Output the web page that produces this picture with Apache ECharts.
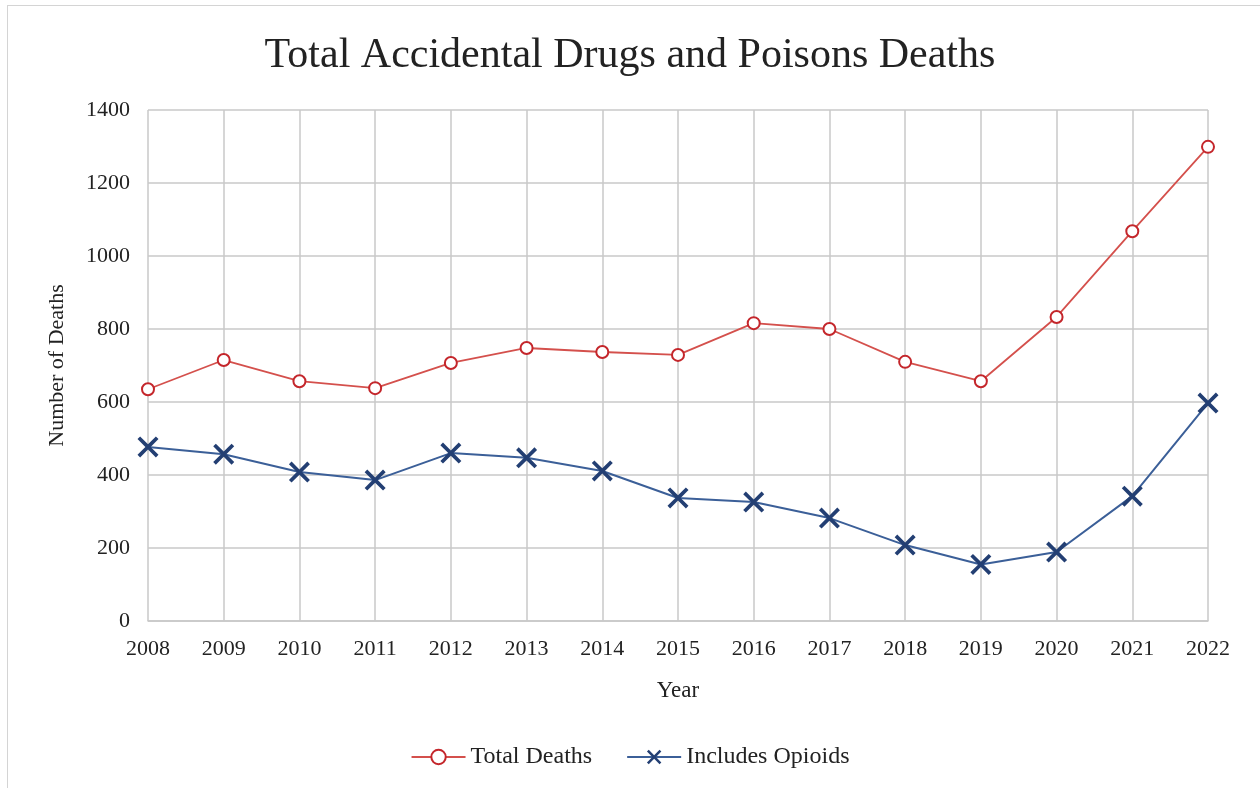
<!DOCTYPE html>
<html>
<head>
<meta charset="utf-8">
<script src="https://cdn.jsdelivr.net/npm/echarts@6/dist/echarts.min.js"></script>
<style>
  html, body { margin: 0; padding: 0; background: #fff; }
  #frame { position: absolute; left: 7px; top: 5px; width: 1260px; height: 790px; border-left: 1px solid #d4d4d4; border-top: 1px solid #d4d4d4; }
  #chart { width: 1260px; height: 788px; }
</style>
</head>
<body>
<div id="frame"></div>
<div id="chart" style="position:absolute;left:0;top:0;"></div>
<script>
var years = ['2008','2009','2010','2011','2012','2013','2014','2015','2016','2017','2018','2019','2020','2021','2022'];
var totalDeaths = [635, 715, 657, 638, 707, 748, 737, 729, 816, 800, 710, 657, 833, 1068, 1299];
var opioidDeaths = [477, 457, 408, 386, 460, 447, 411, 337, 326, 282, 208, 155, 189, 342, 597];

var serif = '"Liberation Serif", "DejaVu Serif", serif';
// thin X shape, echarts has no cross symbol
var crossPath = 'path://M0,2.5 L2.5,0 L10,7.5 L17.5,0 L20,2.5 L12.5,10 L20,17.5 L17.5,20 L10,12.5 L2.5,20 L0,17.5 L7.5,10 Z';

var chart = echarts.init(document.getElementById('chart'));

var options = {
  backgroundColor: 'transparent',
  animation: false,
  title: {
    text: 'Total Accidental Drugs and Poisons Deaths',
    left: 'center',
    top: 30,
    textStyle: { fontFamily: serif, fontSize: 42, fontWeight: 'normal', color: '#222' }
  },
  grid: { left: 148, right: 52, top: 110, bottom: 167 },
  legend: {
    bottom: 14,
    left: 'center',
    itemGap: 34,
    itemWidth: 54,
    itemHeight: 18,
    textStyle: { fontFamily: serif, fontSize: 24, color: '#222' },
    data: ['Total Deaths', 'Includes Opioids']
  },
  xAxis: {
    type: 'category',
    data: years,
    boundaryGap: false,
    name: 'Year',
    nameLocation: 'middle',
    nameGap: 58,
    nameTextStyle: { fontFamily: serif, fontSize: 23, color: '#222' },
    axisLine: { show: true, lineStyle: { color: '#c8c8c8', width: 1.5 } },
    axisTick: { show: false },
    axisLabel: { fontFamily: serif, fontSize: 22, color: '#222', margin: 17 },
    splitLine: { show: true, lineStyle: { color: '#c8c8c8', width: 1.5 } }
  },
  yAxis: {
    type: 'value',
    min: 0,
    max: 1400,
    interval: 200,
    name: 'Number of Deaths',
    nameLocation: 'middle',
    nameGap: 80,
    nameTextStyle: { fontFamily: serif, fontSize: 22, color: '#222' },
    axisLine: { show: false },
    axisTick: { show: false },
    axisLabel: {
      fontFamily: serif, fontSize: 22, color: '#222', margin: 18,
      formatter: function (value) { return String(value); }
    },
    splitLine: { show: true, lineStyle: { color: '#c8c8c8', width: 1.5 } }
  },
  series: [
    {
      name: 'Total Deaths',
      type: 'line',
      data: totalDeaths,
      symbol: 'emptyCircle',
      symbolSize: 12,
      lineStyle: { color: '#d4504c', width: 1.8 },
      itemStyle: { color: '#c4262b', borderColor: '#c4262b', borderWidth: 3.5 }
    },
    {
      name: 'Includes Opioids',
      type: 'line',
      data: opioidDeaths,
      symbol: crossPath,
      symbolSize: 21,
      lineStyle: { color: '#3b5f98', width: 2 },
      itemStyle: { color: '#233f73' }
    }
  ]
};

chart.setOption(options);
</script>
</body>
</html>
